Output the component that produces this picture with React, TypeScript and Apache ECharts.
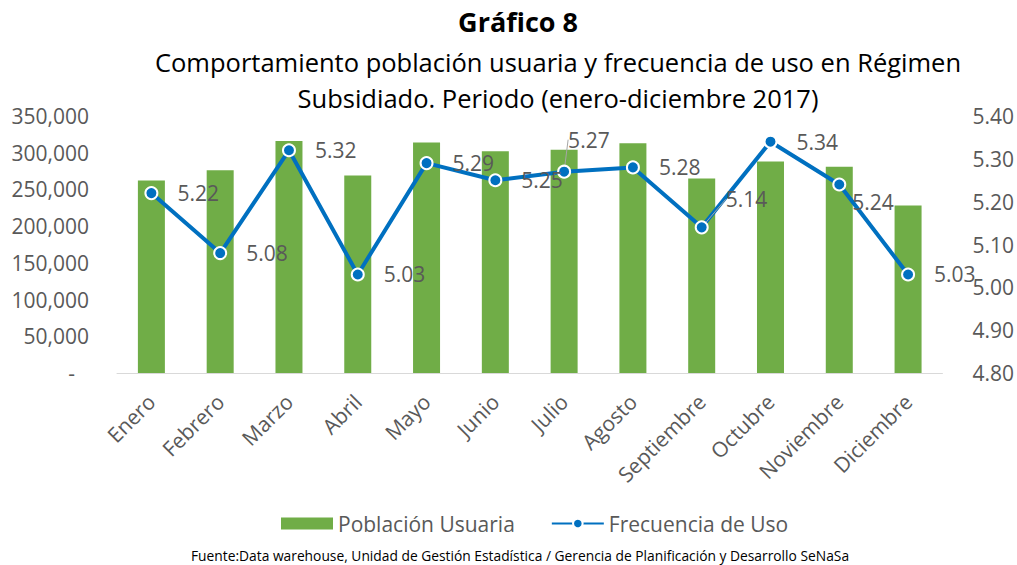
import React, { useEffect, useRef } from "react";
import * as echarts from "echarts";

const months = ["Enero", "Febrero", "Marzo", "Abril", "Mayo", "Junio", "Julio", "Agosto", "Septiembre", "Octubre", "Noviembre", "Diciembre"];
const poblacionUsuaria = [262000, 276000, 316000, 269000, 314000, 302000, 304000, 313000, 265000, 288000, 281000, 228000];
const frecuenciaUso = [5.22, 5.08, 5.32, 5.03, 5.29, 5.25, 5.27, 5.28, 5.14, 5.34, 5.24, 5.03];
const titleText = "Gráfico 8";
const subtitleLines = ["Comportamiento población usuaria y frecuencia de uso en Régimen", "Subsidiado. Periodo (enero-diciembre 2017)"];
const sourceText = "Fuente:Data warehouse, Unidad de Gestión Estadística / Gerencia de Planificación y Desarrollo SeNaSa";

const FONT = "'Open Sans', sans-serif";
const GRAY = "#595959";
const FS = 21;

export default function App() {
  const ref = useRef<HTMLDivElement>(null);
  useEffect(() => {
    document.body.style.margin = "0";
    const chart = echarts.init(ref.current!, undefined, { renderer: "svg" });
    const moved: Record<number, [number, number]> = { 6: [-22, -32], 8: [-2, -28], 10: [-13, 17] };
    chart.setOption({
      animation: false,
      textStyle: { fontFamily: FONT },
      grid: { left: 117, right: 74, top: 116, bottom: 192, containLabel: false },
      graphic: [
        { type: "text", x: 518, y: 21, style: { text: titleText, fontFamily: FONT, fontSize: 27, fontWeight: "bold", fill: "#000", textAlign: "center", textVerticalAlign: "middle" } },
        { type: "text", x: 558, y: 62, style: { text: subtitleLines[0], fontFamily: FONT, fontSize: 25.5, fill: "#000", textAlign: "center", textVerticalAlign: "middle" } },
        { type: "text", x: 558, y: 98, style: { text: subtitleLines[1], fontFamily: FONT, fontSize: 25.5, fill: "#000", textAlign: "center", textVerticalAlign: "middle" } },
        { type: "text", x: 520, y: 555, style: { text: sourceText, fontFamily: FONT, fontSize: 13.8, fill: "#000", textAlign: "center", textVerticalAlign: "middle" } },
      ],
      legend: {
        left: 276,
        top: 508,
        itemWidth: 52,
        itemHeight: 12,
        itemGap: 36,
        textStyle: { fontFamily: FONT, fontSize: FS, color: GRAY },
        data: [
          { name: "Población Usuaria", icon: "rect" },
          { name: "Frecuencia de Uso" },
        ],
      },
      xAxis: {
        type: "category",
        data: months,
        axisLine: { show: true, lineStyle: { color: "#d9d9d9", width: 1 } },
        axisTick: { show: false },
        axisLabel: { rotate: 45, margin: 25, fontFamily: FONT, fontSize: FS, color: GRAY, interval: 0 },
      },
      yAxis: [
        {
          type: "value",
          min: 0,
          max: 350000,
          interval: 50000,
          splitLine: { show: false },
          axisLine: { show: false },
          axisTick: { show: false },
          axisLabel: {
            margin: 28,
            fontFamily: FONT,
            fontSize: FS,
            color: GRAY,
            formatter: (v: number) => (v === 0 ? "{d|-}" : v.toLocaleString("en-US")),
            rich: { d: { fontFamily: FONT, fontSize: FS, color: GRAY, padding: [0, 14, 0, 0] } },
          },
        },
        {
          type: "value",
          min: 4.8,
          max: 5.4,
          interval: 0.1,
          position: "right",
          splitLine: { show: false },
          axisLine: { show: false },
          axisTick: { show: false },
          axisLabel: { margin: 30, fontFamily: FONT, fontSize: FS, color: GRAY, formatter: (v: number) => v.toFixed(2) },
        },
      ],
      series: [
        {
          name: "Población Usuaria",
          type: "bar",
          data: poblacionUsuaria,
          barWidth: 27,
          itemStyle: { color: "#70AD47" },
          yAxisIndex: 0,
        },
        {
          name: "Frecuencia de Uso",
          type: "line",
          yAxisIndex: 1,
          data: frecuenciaUso.map((v, i) =>
            i === 6 || i === 8
              ? { value: v, labelLine: { show: true, lineStyle: { color: "#a6a6a6", width: 1 } } }
              : { value: v }
          ),
          symbol: "circle",
          symbolSize: 12,
          lineStyle: { color: "#0070C0", width: 4 },
          itemStyle: { color: "#0070C0", borderColor: "#fff", borderWidth: 2 },
          label: {
            show: true,
            position: "right",
            distance: 19,
            fontFamily: FONT,
            fontSize: FS,
            color: GRAY,
            formatter: (p: any) => Number(p.value).toFixed(2),
          },
          labelLayout: (p: any) => {
            const m = moved[p.dataIndex];
            return m ? { dx: m[0], dy: m[1] } : {};
          },
          z: 5,
        },
      ],
    });
    return () => chart.dispose();
  }, []);
  return <div ref={ref} style={{ width: 1017, height: 565 }} />;
}
